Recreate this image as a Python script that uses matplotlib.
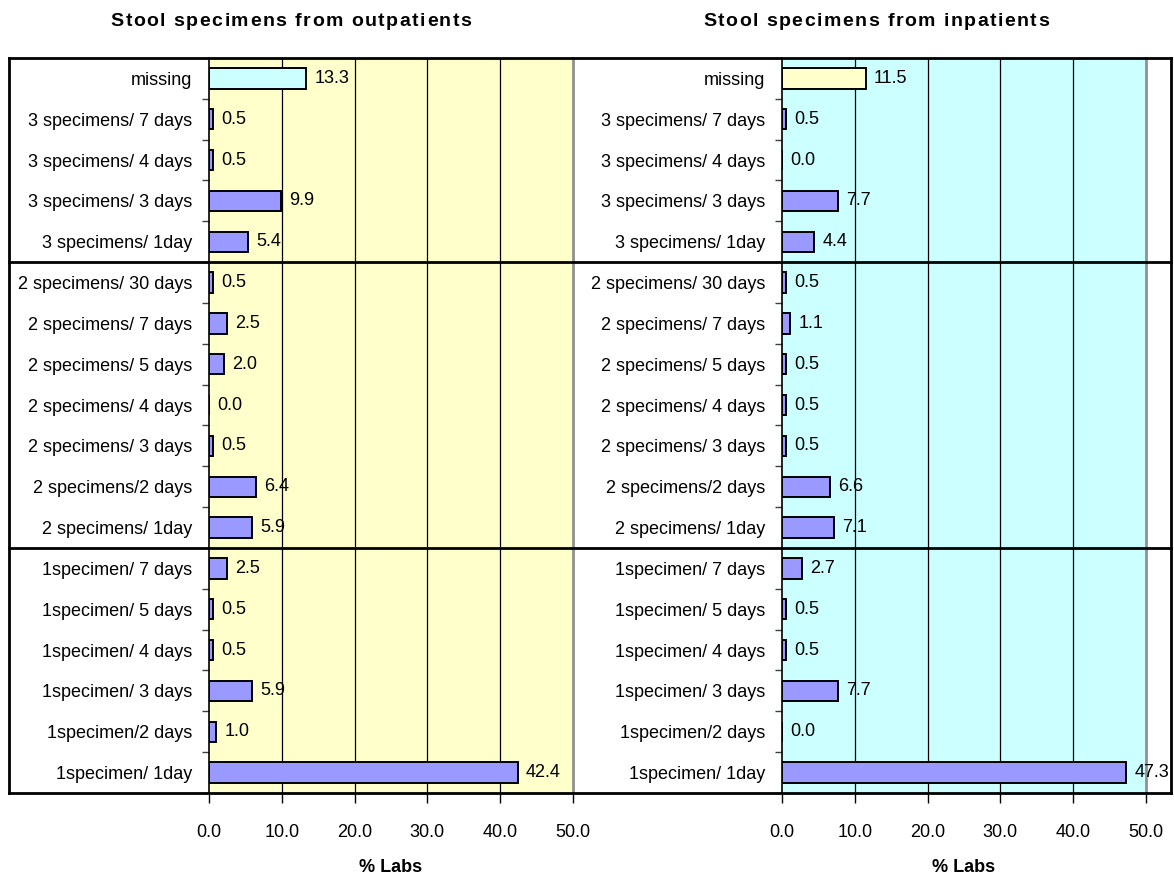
import matplotlib
matplotlib.use("Agg")
import matplotlib.pyplot as plt
import matplotlib.transforms as mtransforms
from matplotlib.font_manager import FontProperties
from matplotlib.lines import Line2D
import numpy as np

plt.rcParams['font.family'] = ['Liberation Sans', 'DejaVu Sans']

# rows, top to bottom
labels = ['missing',
          '3 specimens/ 7 days', '3 specimens/ 4 days', '3 specimens/ 3 days', '3 specimens/ 1day',
          '2 specimens/ 30 days', '2 specimens/ 7 days', '2 specimens/ 5 days', '2 specimens/ 4 days',
          '2 specimens/ 3 days', '2 specimens/2 days', '2 specimens/ 1day',
          '1specimen/ 7 days', '1specimen/ 5 days', '1specimen/ 4 days', '1specimen/ 3 days',
          '1specimen/2 days', '1specimen/ 1day']

outpatients = [13.3,
               0.5, 0.5, 9.9, 5.4,
               0.5, 2.5, 2.0, 0.0, 0.5, 6.4, 5.9,
               2.5, 0.5, 0.5, 5.9, 1.0, 42.4]

inpatients = [11.5,
              0.5, 0.0, 7.7, 4.4,
              0.5, 1.1, 0.5, 0.5, 0.5, 6.6, 7.1,
              2.7, 0.5, 0.5, 7.7, 0.0, 47.3]

# last row index of each group (missing + 3 specimens, 2 specimens, 1 specimen)
group_ends = [4, 11, 17]

titles = ['Stool specimens from outpatients', 'Stool specimens from inpatients']
xticks = [0, 10, 20, 30, 40, 50]

YELLOW = '#FFFFCC'
CYAN = '#CCFFFF'
BAR = '#9999FF'
FS = 13

W, H = 1174, 875
fig = plt.figure(figsize=(W / 100, H / 100), dpi=100)
renderer = fig.canvas.get_renderer()


def spaced_text(s, xc, yc, spacing, **kw):
    # draw a string one glyph at a time with extra tracking, centred on xc (pixels)
    prop = FontProperties(family=plt.rcParams['font.family'], size=kw['fontsize'],
                          weight=kw.get('fontweight', 'normal'))
    widths = [renderer.get_text_width_height_descent(c, prop, ismath=False)[0] for c in s]
    total = sum(widths) + spacing * (len(s) - 1)
    x = xc - total / 2
    for c, w in zip(s, widths):
        if c != ' ':
            fig.text(x / W, yc / H, c, ha='left', va='center', fontproperties=prop)
        x += w + spacing


ax_left = fig.add_axes([209 / W, 82 / H, 364 / W, 735 / H])
ax_right = fig.add_axes([782 / W, 82 / H, 364 / W, 735 / H])

n = len(labels)
y = np.arange(n)

panels = [(ax_left, outpatients, YELLOW, CYAN, 291),
          (ax_right, inpatients, CYAN, YELLOW, 876)]

for i, (ax, values, bg, missing_col, title_x) in enumerate(panels):
    ax.set_facecolor(bg)
    colors = [missing_col] + [BAR] * (n - 1)
    ax.barh(y, values, height=0.5, color=colors, edgecolor='black', linewidth=1.4, zorder=3)
    for yi, v in zip(y, values):
        ax.annotate(f'{v:.1f}', (v, yi), xytext=(6, 0), textcoords='offset points',
                    ha='left', va='center', fontsize=FS, zorder=4)

    ax.set_xlim(0, 50)
    ax.set_ylim(n - 0.5, -0.5)
    for gx in xticks[1:-1]:
        ax.axvline(gx, color='black', lw=0.9, zorder=1)

    ax.set_yticks(y)
    ax.set_yticklabels(labels, fontsize=FS)
    ax.set_yticks(np.arange(n + 1) - 0.5, minor=True)
    ax.tick_params(axis='y', which='major', length=0, pad=12)
    ax.tick_params(axis='y', which='minor', length=5, width=1, color='#404040', direction='out')

    ax.set_xticks(xticks)
    ax.set_xticklabels([f'{t:.1f}' for t in xticks], fontsize=FS)
    ax.tick_params(axis='x', length=7, width=1, direction='out', pad=15)
    ax.set_xlabel('% Labs', fontsize=FS, fontweight='bold', labelpad=13)

    ax.spines['top'].set_visible(False)
    ax.spines['bottom'].set_visible(False)
    ax.spines['left'].set_color('black')
    ax.spines['left'].set_linewidth(1.2)
    ax.spines['right'].set_color('#909090')
    ax.spines['right'].set_linewidth(2)

    spaced_text(titles[i], title_x, H - 22, 1.5, fontsize=14, fontweight='bold')

# outer frame with group separators, running across both panels
trans = mtransforms.blended_transform_factory(fig.transFigure, ax_left.transData)
x0, x1 = 9 / W, 1171 / W
for yb in [-0.5] + [g + 0.5 for g in group_ends]:
    fig.add_artist(Line2D([x0, x1], [yb, yb], transform=trans, color='black', lw=2, zorder=5))
for xb in (x0, x1):
    fig.add_artist(Line2D([xb, xb], [-0.5, n - 0.5], transform=trans, color='black', lw=2, zorder=5))

fig.savefig('out.png', dpi=100)
